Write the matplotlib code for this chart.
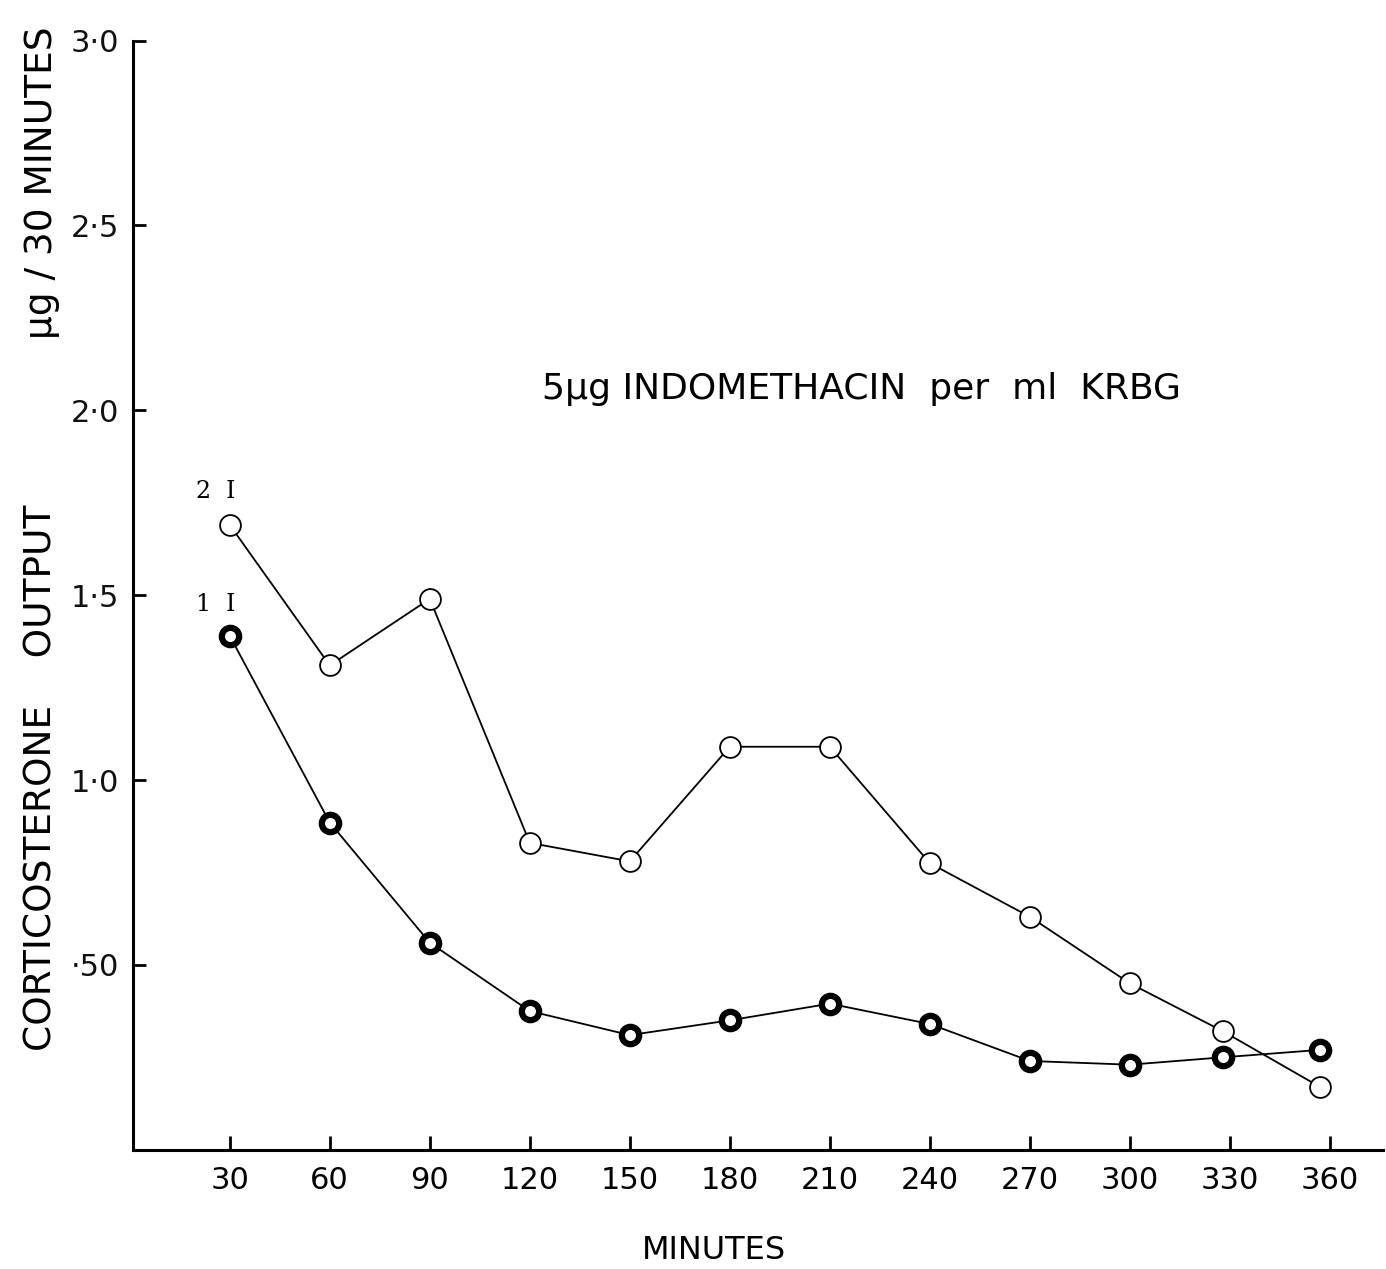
import matplotlib
matplotlib.use("Agg")
import matplotlib.pyplot as plt

# ---- corticosterone output, ug / 30 min ----
minutes_open = [30, 60, 90, 120, 150, 180, 210, 240, 270, 300, 328, 357]
output_open = [1.69, 1.31, 1.49, 0.83, 0.78, 1.09, 1.09, 0.775, 0.63, 0.45, 0.32, 0.17]

minutes_filled = [30, 60, 90, 120, 150, 180, 210, 240, 270, 300, 328, 357]
output_filled = [1.39, 0.885, 0.56, 0.375, 0.31, 0.35, 0.395, 0.34, 0.24, 0.23, 0.25, 0.27]

x_ticks = [30, 60, 90, 120, 150, 180, 210, 240, 270, 300, 330, 360]
x_ticklabels = ["30", "60", "90", "120", "150", "180", "210", "240", "270", "300", "330", "360"]
y_ticks = [0.5, 1.0, 1.5, 2.0, 2.5, 3.0]
y_ticklabels = ["\u00b750", "1\u00b70", "1\u00b75", "2\u00b70", "2\u00b75", "3\u00b70"]

plt.rcParams["font.family"] = ["DejaVu Sans"]

fig = plt.figure(figsize=(13.86, 12.69), dpi=100)
ax = fig.add_axes([0.096, 0.094, 0.902, 0.874])

ax.plot(minutes_open, output_open, color="black", lw=1.3,
        marker="o", markersize=15, markerfacecolor="white",
        markeredgecolor="black", markeredgewidth=1.3, zorder=3)
ax.plot(minutes_filled, output_filled, color="black", lw=1.3,
        marker="o", markersize=12.5, markerfacecolor="white",
        markeredgecolor="black", markeredgewidth=4.5, zorder=3)

ax.set_xlim(1, 376)
ax.set_ylim(0, 3.0)

for side in ("top", "right"):
    ax.spines[side].set_visible(False)
for side in ("left", "bottom"):
    ax.spines[side].set_linewidth(2.2)

ax.set_xticks(x_ticks)
ax.set_xticklabels(x_ticklabels, fontsize=22)
ax.set_yticks(y_ticks)
ax.set_yticklabels(y_ticklabels, fontsize=22, color="#111111")
ax.tick_params(axis="x", direction="in", length=10, width=2, pad=12)
ax.tick_params(axis="y", direction="in", length=9, width=2, pad=10)

# axis titles
ax.text(-0.073, 0.335, "CORTICOSTERONE    OUTPUT", transform=ax.transAxes,
        rotation=90, ha="center", va="center", fontsize=27)
ax.text(-0.073, 0.872, "\u00b5g / 30 MINUTES", transform=ax.transAxes,
        rotation=90, ha="center", va="center", fontsize=27)
ax.text(0.465, -0.091, "MINUTES", transform=ax.transAxes,
        ha="center", va="center", fontsize=23)

ax.text(0.327, 0.686, "5\u00b5g INDOMETHACIN  per  ml  KRBG",
        transform=ax.transAxes, ha="left", va="center", fontsize=26)

# series labels
ax.text(20, 1.78, "2  I", fontsize=17, family="DejaVu Serif",
        ha="left", va="center")
ax.text(20, 1.475, "1  I", fontsize=17, family="DejaVu Serif",
        ha="left", va="center")

fig.savefig("out.png", dpi=100, facecolor="white")
